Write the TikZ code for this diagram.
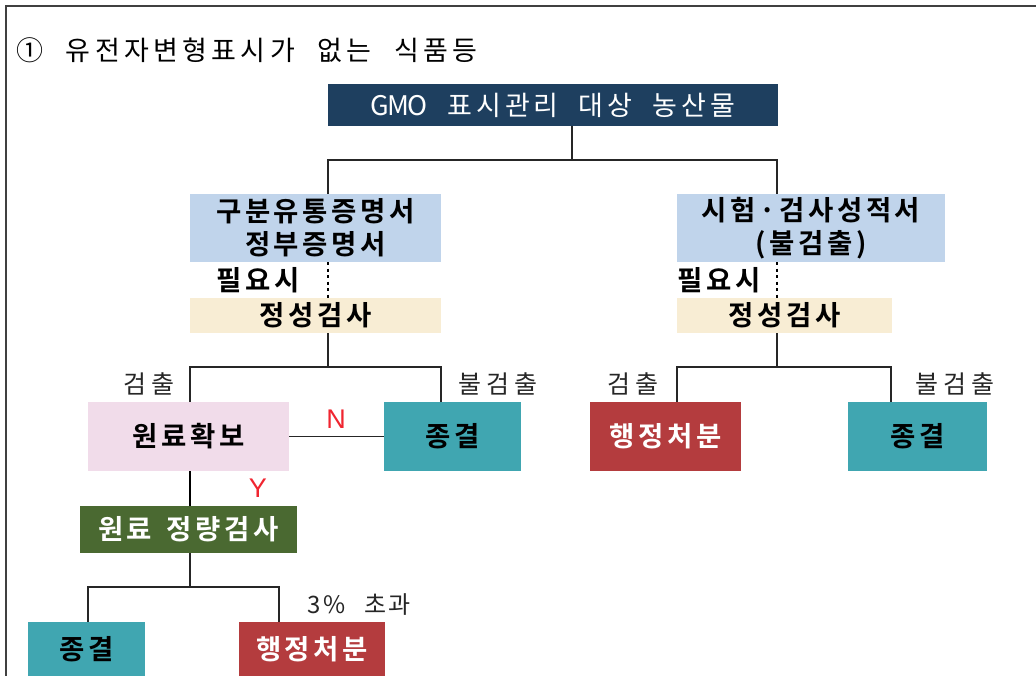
\documentclass[tikz,border=0pt]{standalone}
\usepackage{fontspec}
\newfontfamily\kr[WordSpace=2,LetterSpace=15]{Noto Sans CJK KR}
\newfontfamily\krl[WordSpace=2,LetterSpace=20]{Noto Sans CJK KR}
\newfontfamily\krs[WordSpace=2.6,LetterSpace=8]{Noto Sans CJK KR}
\newfontfamily\krb[WordSpace=1.5,LetterSpace=13]{Noto Sans CJK KR Bold}
\newfontfamily\krt[WordSpace=2.2,LetterSpace=16]{Noto Sans CJK KR}
\definecolor{navy}{HTML}{1E3F5F}
\definecolor{lblue}{HTML}{C0D4EB}
\definecolor{beige}{HTML}{F8EDD4}
\definecolor{pink}{HTML}{F1DCEA}
\definecolor{teal}{HTML}{40A6B1}
\definecolor{dred}{HTML}{B43C3E}
\definecolor{dgreen}{HTML}{4A6931}
\definecolor{frame}{HTML}{404040}
\definecolor{lred}{HTML}{F02530}
\begin{document}
\begin{tikzpicture}[x=1pt,y=-1pt,
  box/.style={draw=none,inner sep=0pt,minimum width=#1,align=center},
  conn/.style={draw=black!85,line width=1.2pt},
  dots/.style={draw=black,line width=2.8pt,dash pattern=on 3pt off 3.5pt},
  lab/.style={inner sep=0pt,font=\krl\fontsize{25}{26}\selectfont,text=black!85},
  bl/.style={font=\krb\fontsize{27.5}{33}\selectfont},
  yn/.style={inner sep=0pt,text=lred,font=\fontspec{Liberation Sans}\fontsize{27}{27}\selectfont}]
\useasboundingbox (0,0) rectangle (1036,676);
\fill[white] (0,0) rectangle (1036,676);
\draw[frame,line width=2pt] (6,676) -- (6,6) -- (1036,6);

\node[inner sep=0pt,anchor=west,font=\krt\fontsize{27}{28}\selectfont] (title) at (16,50) {① 유전자변형표시가 없는 식품등};

\node[box=450pt,minimum height=42pt,fill=navy,text=white,font=\kr\fontsize{27}{28}\selectfont] (top) at (553,105) {G\kern-2pt M\kern-2pt O 표시관리 대상 농산물};
\node[box=251pt,minimum height=68pt,fill=lblue,bl] (b1) at (315.5,228) {구분유통증명서\\정부증명서};
\node[box=268pt,minimum height=68pt,fill=lblue,bl] (b2) at (811,228) {시험·검사성적서\\(불검출)};
\node[box=251pt,minimum height=35pt,fill=beige,bl] (c1) at (315.5,315.5) {정성검사};
\node[box=215pt,minimum height=35pt,fill=beige,bl] (c2) at (784.5,315.5) {정성검사};
\node[box=201pt,minimum height=69pt,fill=pink,bl] (raw) at (188.5,436.5) {원료확보};
\node[box=137pt,minimum height=69pt,fill=teal,bl] (endL) at (452.5,436.5) {종결};
\node[box=151pt,minimum height=69pt,fill=dred,text=white,bl] (admR) at (665.5,436.5) {행정처분};
\node[box=139pt,minimum height=69pt,fill=teal,bl] (endR) at (917.5,436.5) {종결};
\node[box=217pt,minimum height=47pt,fill=dgreen,text=white,bl] (quant) at (188.5,529.5) {원료 정량검사};
\node[box=117pt,minimum height=54pt,fill=teal,bl] (endB) at (86.5,649) {종결};
\node[box=146pt,minimum height=54pt,fill=dred,text=white,bl] (admB) at (312,649) {행정처분};

\node[inner sep=0pt,bl] (needL) at (258.5,280) {필요시};
\node[inner sep=0pt,bl] (needR) at (719.5,280) {필요시};
\node[lab] (detL) at (149,384) {검출};
\node[lab] (ndetL) at (497.5,384) {불검출};
\node[lab] (detR) at (633,384) {검출};
\node[lab] (ndetR) at (955,384) {불검출};
\node[lab,font=\krs\fontsize{24}{26}\selectfont] (over) at (359,605) {3\% 초과};
\node[yn] (N) at (336,419) {N};
\node[yn] (Y) at (258,488) {Y};

\coordinate (j0) at (572,160);
\coordinate (jL) at (328,160);
\coordinate (jR) at (777,160);
\draw[conn] (top.south -| j0) -- (j0);
\draw[conn] (jL |- b1.north) -- (jL) -- (jR) -- (jR |- b2.north);
\draw[dots] (jL |- b1.south) -- (jL |- c1.north);
\draw[dots] (jR |- b2.south) -- (jR |- c2.north);

\coordinate (kL) at (328,367);
\coordinate (kLa) at (190,367);
\coordinate (kLb) at (441,367);
\draw[conn] (c1.south -| kL) -- (kL);
\draw[conn] (kLa |- raw.north) -- (kLa) -- (kLb) -- (kLb |- endL.north);

\coordinate (kR) at (777,367);
\coordinate (kRa) at (677,367);
\coordinate (kRb) at (891,367);
\draw[conn] (c2.south -| kR) -- (kR);
\draw[conn] (kRa |- admR.north) -- (kRa) -- (kRb) -- (kRb |- endR.north);

\draw[conn] (raw.east) -- (endL.west);
\coordinate (yx) at (190,480);
\draw[draw=black,line width=2.6pt] (raw.south -| yx) -- (quant.north -| yx);

\coordinate (m) at (190,587);
\coordinate (ma) at (88,587);
\coordinate (mb) at (279,587);
\draw[conn] (quant.south -| m) -- (m);
\draw[conn] (ma |- endB.north) -- (ma) -- (mb) -- (mb |- admB.north);
\end{tikzpicture}
\end{document}
